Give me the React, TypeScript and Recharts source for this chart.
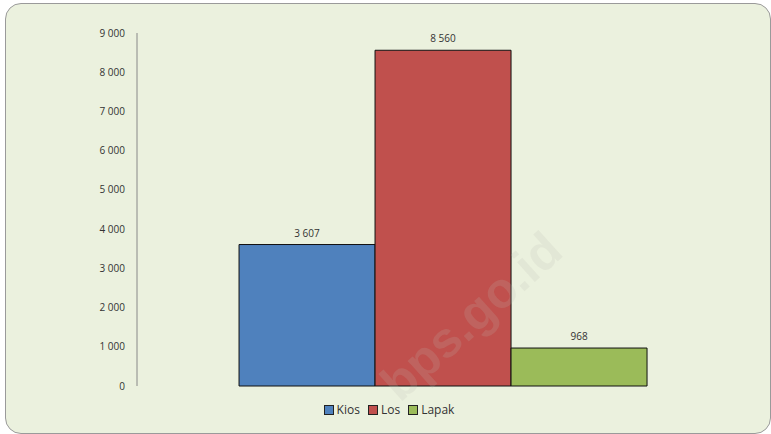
import React from "react";
import { BarChart, Bar, XAxis, YAxis, Legend, LabelList } from "recharts";

const categories = ["Pasar"];
const seriesNames = ["Kios", "Los", "Lapak"];
const kiosValues = [3607];
const losValues = [8560];
const lapakValues = [968];
const yTicks = [0, 1000, 2000, 3000, 4000, 5000, 6000, 7000, 8000, 9000];
const colors = ["#4F81BD", "#C0504D", "#9BBB59"];

const data = categories.map((c, i) => ({
  name: c,
  Kios: kiosValues[i],
  Los: losValues[i],
  Lapak: lapakValues[i],
}));

const fmt = (v: any) => {
  const n = Number(v);
  return n.toString().replace(/\B(?=(\d{3})+(?!\d))/g, " ");
};

const FONT = "'Open Sans', 'DejaVu Sans', sans-serif";

const LegendContent = () => (
  <div style={{ display: "flex", justifyContent: "center", fontFamily: FONT, fontSize: 12, color: "#333" }}>
    {seriesNames.map((s, i) => (
      <div key={s} style={{ display: "flex", alignItems: "center", marginLeft: 4, marginRight: 4 }}>
        <span
          style={{
            display: "inline-block",
            width: 8,
            height: 8,
            background: colors[i],
            border: "1px solid #222",
            marginRight: 3,
          }}
        />
        <span>{s}</span>
      </div>
    ))}
  </div>
);

export default function App() {
  return (
    <div style={{ position: "absolute", left: 0, top: 0, width: 771, height: 434, background: "#fff", overflow: "hidden" }}>
      <div
        style={{
          position: "absolute",
          left: 5,
          top: 3,
          width: 764,
          height: 429,
          background: "#EBF1DE",
          border: "1px solid #9a9a9a",
          borderRadius: 16,
        }}
      />
      <div style={{ position: "absolute", left: 0, top: 0 }}>
        <BarChart
          width={771}
          height={434}
          data={data}
          margin={{ top: 33, right: 23, bottom: 26, left: 0 }}
          barCategoryGap="16.7%"
          barGap={0}
        >
          <XAxis dataKey="name" hide />
          <YAxis
            width={137}
            domain={[0, 9000]}
            ticks={yTicks}
            tickFormatter={fmt}
            tickLine={false}
            tickSize={0}
            tickMargin={12}
            axisLine={{ stroke: "#888" }}
            tick={{ fill: "#333", fontSize: 10, fontFamily: FONT }}
            interval={0}
          />
          <Legend
            verticalAlign="bottom"
            height={22}
            wrapperStyle={{ top: 401, left: 0, width: 778 }}
            content={<LegendContent />}
          />
          {seriesNames.map((s, i) => (
            <Bar key={s} dataKey={s} fill={colors[i]} stroke="#111" strokeWidth={1} isAnimationActive={false}>
              <LabelList
                dataKey={s}
                position="top"
                offset={8}
                formatter={fmt}
                style={{ fill: "#333", fontSize: 10, fontFamily: FONT }}
              />
            </Bar>
          ))}
        </BarChart>
      </div>
      <div
        style={{
          position: "absolute",
          left: 372,
          top: 372,
          transform: "rotate(-42deg)",
          transformOrigin: "left top",
          fontFamily: "'Liberation Sans', sans-serif",
          fontWeight: "bold",
          fontSize: 50,
          lineHeight: "50px",
          color: "rgba(190, 190, 180, 0.18)",
          pointerEvents: "none",
          whiteSpace: "nowrap",
        }}
      >
        bps.go.id
      </div>
    </div>
  );
}
